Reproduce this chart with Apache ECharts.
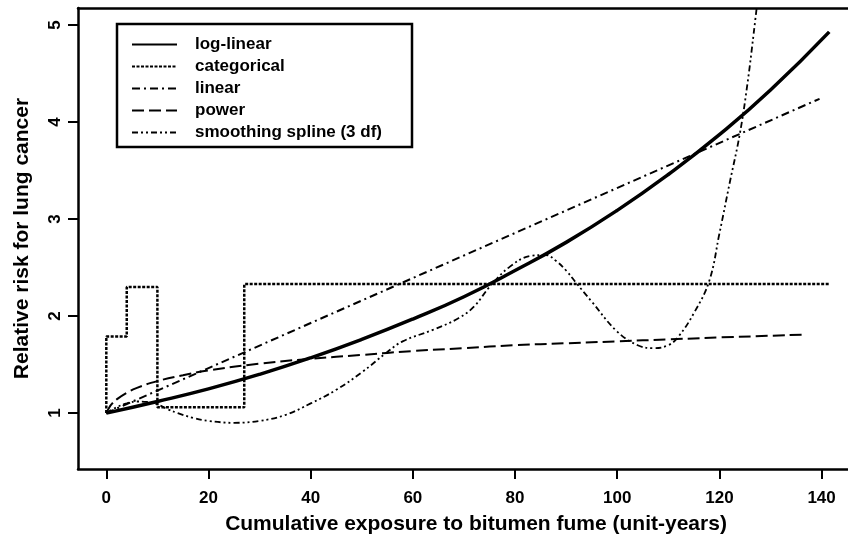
<!DOCTYPE html>
<html>
<head>
<meta charset="utf-8">
<script src="https://cdn.jsdelivr.net/npm/echarts@6/dist/echarts.min.js"></script>
<style>
html,body{margin:0;padding:0;background:#fff;}
#chart{width:848px;height:547px;}
</style>
</head>
<body>
<div id="chart"></div>
<script>
// ---- data ----
const xTicks = [0, 20, 40, 60, 80, 100, 120, 140];
const yTicks = [1, 2, 3, 4, 5];

const seriesNames = ["log-linear", "categorical", "linear", "power", "smoothing spline (3 df)"];

const logLinearX  = [0, 10, 20, 30, 40, 50, 60, 70, 80, 90, 100, 110, 120, 130, 141.5];
const logLinearRR = [1.00, 1.12, 1.25, 1.40, 1.57, 1.76, 1.97, 2.20, 2.47, 2.76, 3.09, 3.46, 3.87, 4.33, 4.93];

const catEdges = [0, 4, 10, 27, 141.5];
const catRR    = [1.79, 2.30, 1.06, 2.33];

const linearX  = [0, 139.6];
const linearRR = [1.00, 4.24];

const powerX  = [0, 0.5, 1, 2, 4, 6, 10, 15, 20, 30, 40, 50, 60, 70, 80, 90, 100, 110, 120, 137];
const powerRR = [1.00, 1.05, 1.09, 1.14, 1.21, 1.26, 1.33, 1.39, 1.44, 1.51, 1.56, 1.60, 1.64, 1.67, 1.70, 1.72, 1.74, 1.76, 1.78, 1.81];

const splineX  = [0, 2, 4, 6, 8, 10, 12, 14, 17, 20, 25, 30, 35, 40, 45, 50, 55, 58, 64, 69, 72, 75, 79, 83, 86, 88, 90, 92, 95, 100, 104, 107, 110, 112, 115, 118, 120, 122, 124, 125.5, 126.7, 128];
const splineRR = [1.00, 1.06, 1.10, 1.12, 1.115, 1.09, 1.04, 1.00, 0.95, 0.92, 0.90, 0.92, 0.98, 1.10, 1.24, 1.42, 1.63, 1.74, 1.86, 1.98, 2.10, 2.30, 2.51, 2.62, 2.63, 2.57, 2.47, 2.34, 2.15, 1.84, 1.70, 1.67, 1.70, 1.79, 2.03, 2.36, 2.85, 3.37, 3.88, 4.40, 4.91, 5.50];

// ---- build ----
const zip = (xs, ys) => xs.map((x, i) => [x, ys[i]]);
const catData = [[catEdges[0], 1.0]];
catRR.forEach((v, i) => catData.push([catEdges[i], v]));
catData.push([catEdges[catEdges.length - 1], catRR[catRR.length - 1]]);

const FONT = "'Liberation Sans', Arial, Helvetica, sans-serif";
const chart = echarts.init(document.getElementById('chart'), null, {renderer: 'canvas'});

const xMin = -5.54, xMax = 145.17, yMin = 0.424, yMax = 5.176;

chart.setOption({
  animation: false,
  backgroundColor: '#fff',
  grid: {left: 78, top: 8, right: 0, bottom: 78, containLabel: false},
  xAxis: [{
    type: 'value', min: xMin, max: xMax, position: 'bottom',
    name: 'Cumulative exposure to bitumen fume (unit-years)',
    nameLocation: 'middle', nameGap: 45,
    nameTextStyle: {fontFamily: FONT, fontWeight: 'bold', fontSize: 21, color: '#000', padding: [0, 0, 0, 26]},
    axisLine: {show: true, onZero: false, lineStyle: {color: '#000', width: 2.5}},
    axisTick: {show: true, length: 10, lineStyle: {color: '#000', width: 2}, customValues: xTicks},
    axisLabel: {show: true, margin: 21, fontFamily: FONT, fontWeight: 'bold', fontSize: 17, color: '#000', customValues: xTicks},
    splitLine: {show: false}
  }, {
    type: 'value', min: xMin, max: xMax, position: 'top',
    axisLine: {show: true, onZero: false, lineStyle: {color: '#000', width: 2.5}},
    axisTick: {show: false}, axisLabel: {show: false}, splitLine: {show: false}
  }],
  yAxis: {
    type: 'value', min: yMin, max: yMax,
    name: 'Relative risk for lung cancer',
    nameLocation: 'middle', nameGap: 45,
    nameTextStyle: {fontFamily: FONT, fontWeight: 'bold', fontSize: 21, color: '#000'},
    axisLine: {show: true, onZero: false, lineStyle: {color: '#000', width: 2.5}},
    axisTick: {show: true, length: 10, lineStyle: {color: '#000', width: 2}, customValues: yTicks},
    axisLabel: {show: true, rotate: 90, margin: 14, fontFamily: FONT, fontWeight: 'bold', fontSize: 17, color: '#000', customValues: yTicks},
    splitLine: {show: false}
  },
  legend: {
    show: true, orient: 'vertical', left: 131, top: 36, padding: 0,
    itemWidth: 45, itemHeight: 14, itemGap: 5,
    data: seriesNames,
    itemStyle: {opacity: 0},
    textStyle: {fontFamily: FONT, fontWeight: 'bold', fontSize: 17, color: '#000', lineHeight: 14, padding: [0, 0, 0, 13]}
  },
  graphic: [{
    type: 'rect', shape: {x: 117, y: 24, width: 295, height: 123},
    style: {fill: 'none', stroke: '#000', lineWidth: 2.5}, z: 100
  }],
  series: [
    {name: seriesNames[0], type: 'line', data: zip(logLinearX, logLinearRR), smooth: true, symbol: 'none', showSymbol: false,
      lineStyle: {color: '#000', width: 3.5, type: 'solid'}, itemStyle: {color: '#000'}},
    {name: seriesNames[1], type: 'line', data: catData, step: 'end', symbol: 'none', showSymbol: false,
      lineStyle: {color: '#000', width: 2.5, type: [3, 1.5]}, itemStyle: {color: '#000'}},
    {name: seriesNames[2], type: 'line', data: zip(linearX, linearRR), symbol: 'none', showSymbol: false,
      lineStyle: {color: '#000', width: 2, type: [8, 4, 2, 4]}, itemStyle: {color: '#000'}},
    {name: seriesNames[3], type: 'line', data: zip(powerX, powerRR), smooth: true, symbol: 'none', showSymbol: false,
      lineStyle: {color: '#000', width: 2, type: [12, 5]}, itemStyle: {color: '#000'}},
    {name: seriesNames[4], type: 'line', data: zip(splineX, splineRR), smooth: 0.4, symbol: 'none', showSymbol: false, clip: true,
      lineStyle: {color: '#000', width: 1.8, type: [6, 3, 2, 3, 2, 3]}, itemStyle: {color: '#000'}}
  ]
});
</script>
</body>
</html>
